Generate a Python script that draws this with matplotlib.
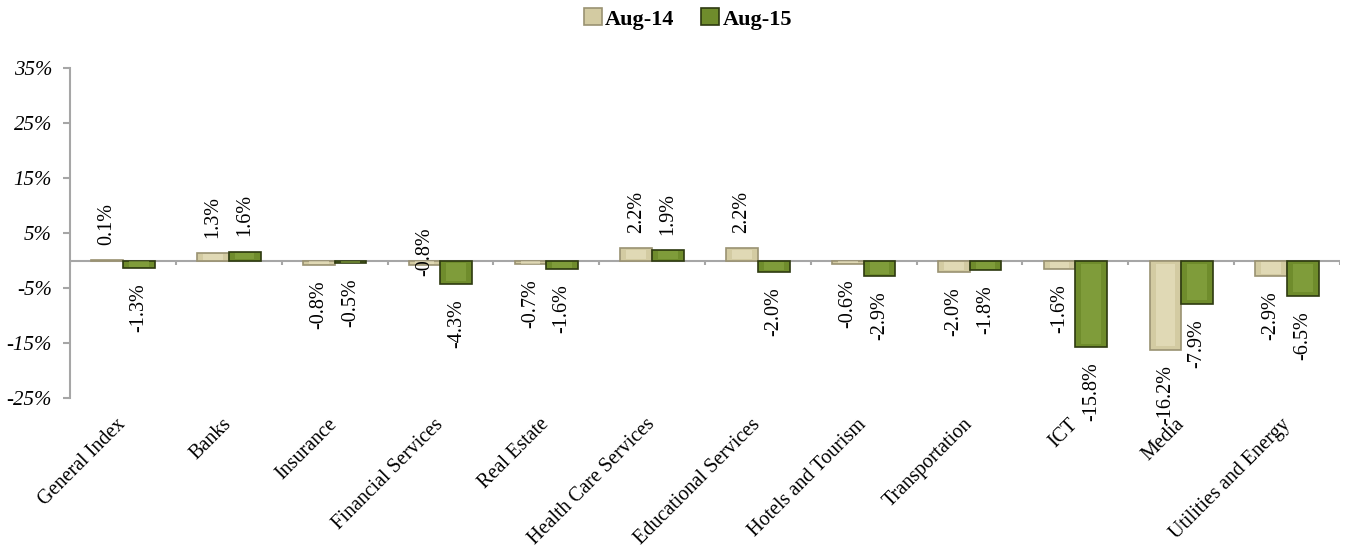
import matplotlib
matplotlib.use("Agg")
import matplotlib.pyplot as plt
from matplotlib.patches import Patch
import numpy as np

sectors = ["General Index", "Banks", "Insurance", "Financial Services", "Real Estate",
           "Health Care Services", "Educational Services", "Hotels and Tourism",
           "Transportation", "ICT", "Media", "Utilities and Energy"]
aug14 = [0.1, 1.3, -0.8, -0.8, -0.7, 2.2, 2.2, -0.6, -2.0, -1.6, -16.2, -2.9]
aug15 = [-1.3, 1.6, -0.5, -4.3, -1.6, 1.9, -2.0, -2.9, -1.8, -15.8, -7.9, -6.5]
series_names = ["Aug-14", "Aug-15"]

# face / bevel / edge colours per series
faces = ["#d3cba2", "#6f8c2c"]
bevels = ["#ebe5c6", "#8dab47"]
edges = ["#9a9272", "#2e3a10"]

plt.rcParams["font.family"] = ["Liberation Serif", "DejaVu Serif"]

fig = plt.figure(figsize=(13.49, 5.51), dpi=100)
ax = fig.add_axes([70 / 1349, 1 - 398 / 551, 1270 / 1349, 330 / 551])

n = len(sectors)
x = np.arange(n)
w = 0.3
label_shift = {(0, 3): 38}  # Financial Services Aug-14 label sits above the axis

for s, vals in enumerate([aug14, aug15]):
    pos = x + (s - 0.5) * w
    ax.bar(pos, vals, width=w, color=faces[s], edgecolor=edges[s], linewidth=1.2, zorder=3)
    # inner lighter face for a bevelled look
    inset = [np.sign(v) * min(abs(v) * 0.25, 1.4) for v in vals]
    inner_h = [v - i for v, i in zip(vals, inset)]
    ax.bar(pos, inner_h, bottom=[i / 2 for i in inset], width=w * 0.62,
           color=bevels[s], linewidth=0, alpha=0.55, zorder=4)
    for k, (p, v) in enumerate(zip(pos, vals)):
        up = v >= 0
        dy = 11 if up else -11
        dy += label_shift.get((s, k), 0)
        ax.annotate(f"{v:.1f}%", xy=(p, v), xytext=(0, dy), textcoords="offset points",
                    rotation=90, ha="center", va="bottom" if up else "top",
                    fontsize=14.5, zorder=5)

ax.set_ylim(-25, 35)
ax.set_xlim(-0.5, n - 0.5)
ax.set_yticks(np.arange(-25, 36, 10))
ax.set_yticklabels([f"{t}%" for t in range(-25, 36, 10)], fontsize=15, style="italic")

ax.axhline(0, color="#a6a6a6", linewidth=1.5, zorder=2)
ax.vlines(np.arange(n + 1) - 0.5, -0.9, 0, color="#a6a6a6", linewidth=1.5, zorder=2)

ax.set_xticks(x)
ax.set_xticklabels(sectors, fontsize=14.5, rotation=45, ha="right", va="center",
                   rotation_mode="anchor")
ax.tick_params(axis="x", length=0, pad=17)
ax.tick_params(axis="y", length=5, width=1.5, color="#a6a6a6", pad=8)

for side in ["top", "right", "bottom"]:
    ax.spines[side].set_visible(False)
ax.spines["left"].set_color("#a6a6a6")
ax.spines["left"].set_linewidth(1.5)

handles = [Patch(facecolor=faces[i], edgecolor=edges[i], linewidth=1.2) for i in range(2)]
fig.legend(handles, series_names, loc="center", bbox_to_anchor=(0.51, 1 - 19 / 551),
           ncol=2, frameon=False, prop={"weight": "bold", "size": 16},
           handlelength=0.8, handleheight=0.8, handletextpad=0.15, columnspacing=1.2)

fig.savefig("out.png", dpi=100)
